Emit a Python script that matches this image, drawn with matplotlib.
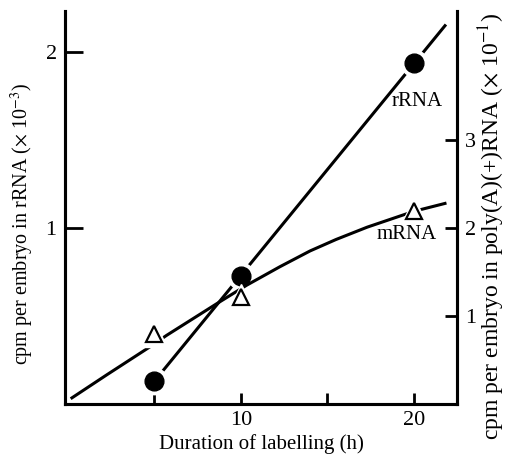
import numpy as np
import matplotlib
matplotlib.use("Agg")
import matplotlib.pyplot as plt

plt.rcParams['font.family'] = ['Liberation Serif', 'DejaVu Serif']
plt.rcParams['mathtext.fontset'] = 'stix'

# measured points
hours = [5, 10, 20]
rrna = [0.13, 0.73, 1.94]          # left axis (x 10^-3)
mrna = [0.80, 1.22, 2.19]          # right axis (x 10^-1)

# hand drawn lines through the points
rrna_line_x = [5, 21.8]
rrna_line_y = [0.13, 2.15]
mrna_line_x = [0.23, 2.23, 4.74, 5.7, 8.6, 10.33, 12.25, 14, 15.5, 17.3, 20, 21.8]
mrna_line_y = [0.07, 0.33, 0.65, 0.78, 1.14, 1.35, 1.56, 1.74, 1.87, 2.01, 2.19, 2.28]

fig = plt.figure(figsize=(5.06, 4.62), dpi=100)
ax = fig.add_axes([0.1285, 0.1255, 0.903 - 0.1285, 0.976 - 0.1255])
ax2 = ax.twinx()

lw = 2.2
ax.plot(rrna_line_x, rrna_line_y, color='black', lw=lw, zorder=2)
ax2.plot(mrna_line_x, mrna_line_y, color='black', lw=lw, zorder=2)

# white halo behind markers to break the lines
ax.plot(hours, rrna, 'o', ms=19, color='white', zorder=3)
ax.plot(hours, rrna, 'o', ms=13.5, color='black', zorder=4)
ax2.plot(hours, mrna, '^', ms=19, color='white', zorder=3)
ax2.plot(hours, mrna, '^', ms=11.5, mfc='white', mec='black', mew=1.6, zorder=4)

ax.text(20.2, 1.72, 'rRNA', fontsize=15, ha='center', va='center')
ax2.text(19.6, 1.93, 'mRNA', fontsize=15, ha='center', va='center')

ax.set_xlim(-0.17, 22.49)
ax.set_ylim(0, 2.233)
ax2.set_ylim(0, 4.466)

ax.set_xticks([5, 10, 15, 20])
ax.set_xticklabels(['', '10', '', '20'])
ax.set_yticks([1, 2])
ax2.set_yticks([1, 2, 3])

ax.tick_params(axis='x', direction='in', length=8, width=2, labelsize=16, pad=5)
ax.tick_params(axis='y', direction='in', length=13, width=2, labelsize=16, pad=6)
ax2.tick_params(axis='y', direction='in', length=9, width=2, labelsize=16, pad=6)

for a in (ax, ax2):
    a.spines['top'].set_visible(False)
    for s in ('left', 'bottom', 'right'):
        a.spines[s].set_linewidth(2.2)

ax.set_xlabel('Duration of labelling (h)', fontsize=15, labelpad=3)
fig.text(22 / 506, 1 - 224 / 462, r'cpm per embryo in rRNA ($\times$ 10$^{-3}$)',
         fontsize=14.5, rotation=90, ha='center', va='center')
fig.text(492 / 506, 1 - 226 / 462, r'cpm per embryo in poly(A)(+)RNA ($\times$ 10$^{-1}$)',
         fontsize=17, rotation=90, ha='center', va='center')

fig.savefig('out.png', dpi=100)
